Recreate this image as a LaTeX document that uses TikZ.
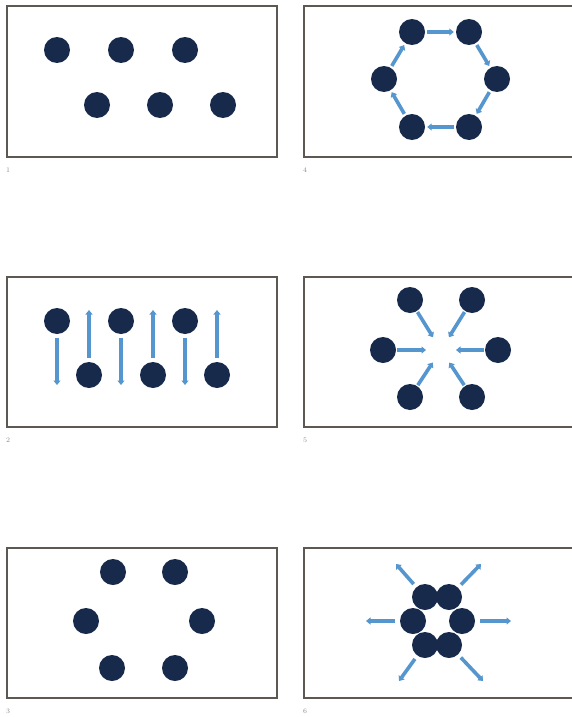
\documentclass[tikz,border=0pt]{standalone}
\usetikzlibrary{arrows.meta}
\definecolor{navy}{HTML}{172A4C}
\definecolor{arrowblue}{HTML}{5596CF}
\definecolor{framegray}{HTML}{5E5852}
\definecolor{labelgray}{HTML}{8A8A8A}
\tikzset{
  dot/.style={circle,fill=navy,draw=none,minimum size=26pt,inner sep=0pt},
  panel/.style={draw=framegray,line width=2pt},
  flow/.style={draw=arrowblue,line width=3.6pt,-{Triangle[width=7pt,length=4.5pt]},shorten <=0pt},
  numlabel/.style={text=labelgray,font=\fontsize{7}{8}\selectfont,inner sep=0pt}
}
\begin{document}
\begin{tikzpicture}[x=1pt,y=-1pt]
\useasboundingbox (0,0) rectangle (571,717);
\fill[white] (0,0) rectangle (571,717);
% frames
\draw[panel] (7,6) rectangle (277,157);
\draw[panel] (304,6) rectangle (576,157);
\draw[panel] (7,277) rectangle (277,427);
\draw[panel] (304,277) rectangle (576,427);
\draw[panel] (7,548) rectangle (277,698);
\draw[panel] (304,548) rectangle (576,698);
% labels
\node[numlabel] (l1) at (8,170) {1};
\node[numlabel] (l4) at (305,170) {4};
\node[numlabel] (l2) at (8,440) {2};
\node[numlabel] (l5) at (305,440) {5};
\node[numlabel] (l3) at (8,711) {3};
\node[numlabel] (l6) at (305,711) {6};
% panel 1
\node[dot] (a1) at (57,50) {};
\node[dot] (a2) at (121,50) {};
\node[dot] (a3) at (185,50) {};
\node[dot] (a4) at (97,105) {};
\node[dot] (a5) at (160,105) {};
\node[dot] (a6) at (223,105) {};
% panel 4
\node[dot] (d1) at (412,32) {};
\node[dot] (d2) at (469,32) {};
\node[dot] (d3) at (497,79) {};
\node[dot] (d4) at (469,127) {};
\node[dot] (d5) at (412,127) {};
\node[dot] (d6) at (384,79) {};
\draw[flow,shorten <=2pt,shorten >=2pt] (d1) -- (d2);
\draw[flow,shorten <=2pt,shorten >=2pt] (d2) -- (d3);
\draw[flow,shorten <=2pt,shorten >=2pt] (d3) -- (d4);
\draw[flow,shorten <=2pt,shorten >=2pt] (d4) -- (d5);
\draw[flow,shorten <=2pt,shorten >=2pt] (d5) -- (d6);
\draw[flow,shorten <=2pt,shorten >=2pt] (d6) -- (d1);
% panel 2
\node[dot] (b1) at (57,321) {};
\node[dot] (b2) at (121,321) {};
\node[dot] (b3) at (185,321) {};
\node[dot] (b4) at (89,375) {};
\node[dot] (b5) at (153,375) {};
\node[dot] (b6) at (217,375) {};
\coordinate (b1e) at (57,385);
\coordinate (b2e) at (121,385);
\coordinate (b3e) at (185,385);
\coordinate (b4e) at (89,310);
\coordinate (b5e) at (153,310);
\coordinate (b6e) at (217,310);
\draw[flow,shorten <=4pt] (b1) -- (b1e);
\draw[flow,shorten <=4pt] (b2) -- (b2e);
\draw[flow,shorten <=4pt] (b3) -- (b3e);
\draw[flow,shorten <=4pt] (b4) -- (b4e);
\draw[flow,shorten <=4pt] (b5) -- (b5e);
\draw[flow,shorten <=4pt] (b6) -- (b6e);
% panel 5
\coordinate (ec) at (441,350);
\node[dot] (e1) at (410,300) {};
\node[dot] (e2) at (472,300) {};
\node[dot] (e3) at (383,350) {};
\node[dot] (e4) at (498,350) {};
\node[dot] (e5) at (410,397) {};
\node[dot] (e6) at (472,397) {};
\foreach \n in {e1,e2,e3,e4,e5,e6}{
  \draw[flow,shorten <=1pt,shorten >=15pt] (\n) -- (ec);
}
% panel 3
\node[dot] (c1) at (113,572) {};
\node[dot] (c2) at (175,572) {};
\node[dot] (c3) at (86,621) {};
\node[dot] (c4) at (202,621) {};
\node[dot] (c5) at (112,668) {};
\node[dot] (c6) at (175,668) {};
% panel 6
\node[dot] (f1) at (425,597) {};
\node[dot] (f2) at (449,597) {};
\node[dot] (f3) at (413,621) {};
\node[dot] (f4) at (462,621) {};
\node[dot] (f5) at (425,645) {};
\node[dot] (f6) at (449,645) {};
\coordinate (f1e) at (396,564);
\coordinate (f2e) at (481,564);
\coordinate (f3e) at (366,621);
\coordinate (f4e) at (511,621);
\coordinate (f5e) at (399,681);
\coordinate (f6e) at (483,681);
\draw[flow,shorten <=4pt] (f1) -- (f1e);
\draw[flow,shorten <=4pt] (f2) -- (f2e);
\draw[flow,shorten <=5pt] (f3) -- (f3e);
\draw[flow,shorten <=5pt] (f4) -- (f4e);
\draw[flow,shorten <=4pt] (f5) -- (f5e);
\draw[flow,shorten <=4pt] (f6) -- (f6e);
\end{tikzpicture}
\end{document}
